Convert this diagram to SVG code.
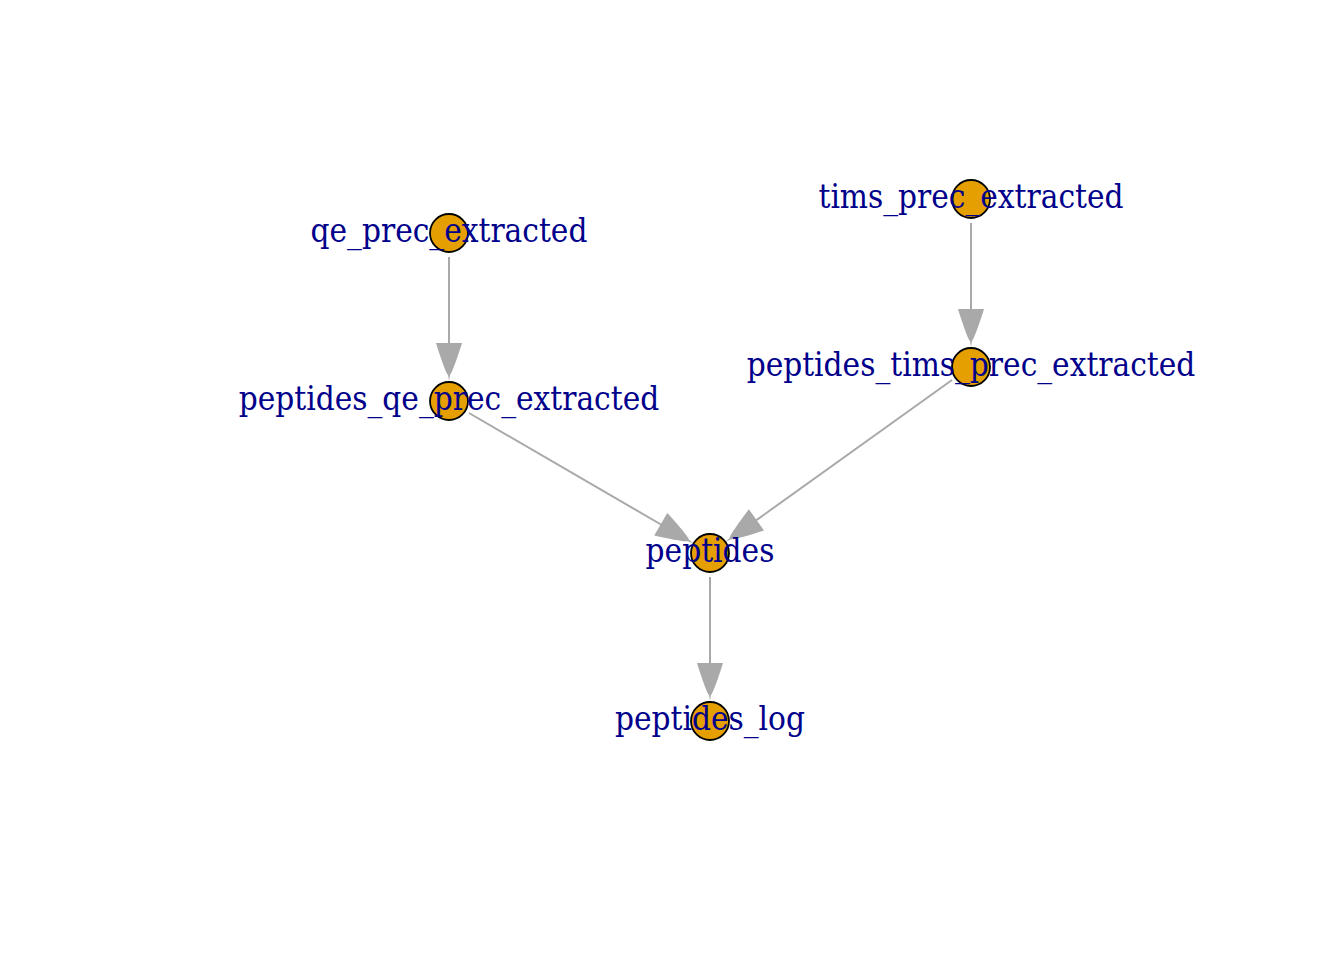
<svg xmlns="http://www.w3.org/2000/svg" width="1344" height="960" viewBox="0 0 1344 960">
<defs>
<style>
.edge{stroke:#A9A9A9;stroke-width:2;fill:none}
.arr{fill:#A9A9A9;stroke:none}
.node circle{fill:#E69F00;stroke:#000;stroke-width:1.8}
.node text{font-family:"DejaVu Serif Condensed","DejaVu Serif",serif;font-size:33px;fill:#00008B;text-anchor:middle}
</style>
<path id="ah" d="M-38,-13 C-22,-8 -8,-3 -6,-1 L0,0 L-6,1 C-8,3 -22,8 -38,13 Z"/>
</defs>
<rect width="1344" height="960" fill="#fff"/>
<g id="edges">
<line class="edge" x1="449" y1="257" x2="449" y2="350"/>
<use href="#ah" class="arr" transform="translate(449,381) rotate(90)"/>
<line class="edge" x1="971" y1="223" x2="971" y2="316"/>
<use href="#ah" class="arr" transform="translate(971,347) rotate(90)"/>
<line class="edge" x1="469" y1="413" x2="667" y2="528"/>
<use href="#ah" class="arr" transform="translate(693.6,543.4) rotate(30.2)"/>
<line class="edge" x1="952" y1="380" x2="751" y2="524"/>
<use href="#ah" class="arr" transform="translate(725.5,542) rotate(144.5)"/>
<line class="edge" x1="710" y1="577" x2="710" y2="670"/>
<use href="#ah" class="arr" transform="translate(710,701) rotate(90)"/>
</g>
<g id="n_qe" class="node"><circle cx="449" cy="233" r="19"/><text x="449" y="242">qe_prec_extracted</text></g>
<g id="n_pqe" class="node"><circle cx="449" cy="401" r="19"/><text x="449" y="410">peptides_qe_prec_extracted</text></g>
<g id="n_tims" class="node"><circle cx="971" cy="199" r="19"/><text x="971" y="208">tims_prec_extracted</text></g>
<g id="n_ptims" class="node"><circle cx="971" cy="367" r="19"/><text x="971" y="376">peptides_tims_prec_extracted</text></g>
<g id="n_pep" class="node"><circle cx="710" cy="553" r="19"/><text x="710" y="562">peptides</text></g>
<g id="n_log" class="node"><circle cx="710" cy="721" r="19"/><text x="710" y="730">peptides_log</text></g>
</svg>
